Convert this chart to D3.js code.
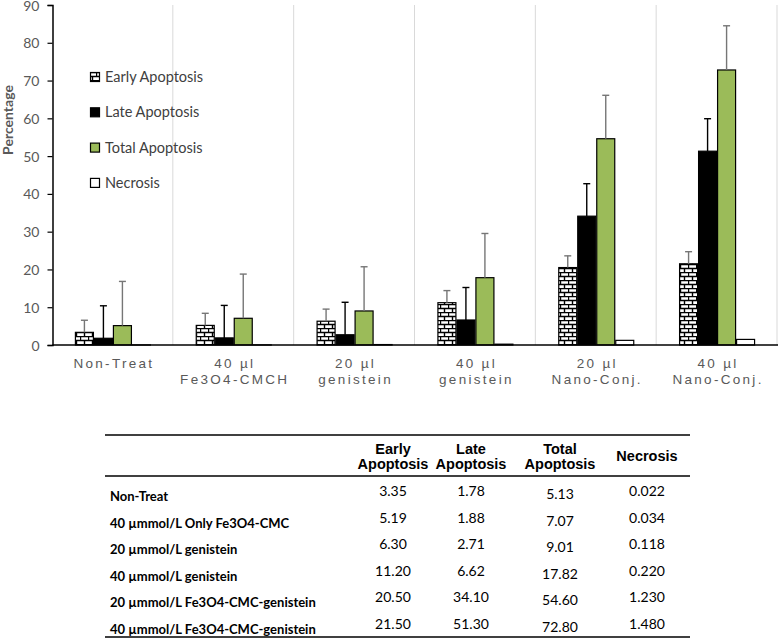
<!DOCTYPE html>
<html><head><meta charset="utf-8">
<script src="https://cdn.jsdelivr.net/npm/d3@7"></script>
<style>body{margin:0;background:#fff}svg{display:block}</style>
</head><body>
<svg id="c" width="778" height="638"></svg>
<script>
const categories = [["Non-Treat"],["40 µl","Fe3O4-CMCH"],["20 µl","genistein"],["40 µl","genistein"],["20 µl","Nano-Conj."],["40 µl","Nano-Conj."]];
const seriesNames = ["Early Apoptosis","Late Apoptosis","Total Apoptosis","Necrosis"];
const early = [3.35,5.19,6.30,11.20,20.50,21.50];
const late = [1.78,1.88,2.71,6.62,34.10,51.30];
const total = [5.13,7.07,9.01,17.82,54.60,72.80];
const necrosis = [0.022,0.034,0.118,0.220,1.230,1.480];
const earlyErr = [3.2,3.2,3.2,3.2,3.1,3.2];
const lateErr = [8.6,8.6,8.6,8.6,8.6,8.6];
const totalErr = [11.7,11.7,11.7,11.7,11.5,11.7];
const yTicks = [0,10,20,30,40,50,60,70,80,90];
const rowLabels = ["Non-Treat","40 µmmol/L Only Fe3O4-CMC","20 µmmol/L genistein","40 µmmol/L genistein","20 µmmol/L Fe3O4-CMC-genistein","40 µmmol/L Fe3O4-CMC-genistein"];
const colHeaders = [["Early","Apoptosis"],["Late","Apoptosis"],["Total","Apoptosis"],["Necrosis"]];

const svg = d3.select("#c");
const defs = svg.append("defs");
const pat = defs.append("pattern").attr("id","brick").attr("patternUnits","userSpaceOnUse")
  .attr("width",8).attr("height",8);
pat.append("rect").attr("width",8).attr("height",8).attr("fill","#fff");
pat.append("path").attr("d","M0,0.5H8M0,4.5H8M0.5,0V4.5M4.5,4.5V8").attr("stroke","#000").attr("stroke-width",1.4).attr("fill","none");

const pLeft = 52.5, pRight = 777.5, pTop = 5, pBottom = 345;
const x = d3.scaleBand().domain(d3.range(categories.length)).range([pLeft,pRight]);
const y = d3.scaleLinear().domain([0,90]).range([pBottom,pTop]);
const inner = d3.scaleBand().domain(d3.range(4)).range([0,76]);
const off = (x.bandwidth()-76)/2;

// separators
svg.append("g").selectAll("line").data(d3.range(1,categories.length+1)).join("line")
  .attr("x1",d=>x(0)+d*x.bandwidth()-0.5).attr("x2",d=>x(0)+d*x.bandwidth()-0.5)
  .attr("y1",y(90)).attr("y2",y(0)).attr("stroke","#d9d9d9").attr("stroke-width",1);

const series = [
  {vals:early, err:earlyErr, fill:"url(#brick)", stroke:"#000", ec:"#767676"},
  {vals:late, err:lateErr, fill:"#000", stroke:"#000", ec:"#000"},
  {vals:total, err:totalErr, fill:"#9bbb59", stroke:"#000", ec:"#767676"},
  {vals:necrosis, err:null, fill:"#fff", stroke:"#000", ec:null}
];
series.forEach((s,si)=>{
  const g = svg.append("g");
  g.selectAll("rect").data(s.vals).join("rect")
    .attr("x",(d,i)=>x(i)+off+inner(si)+0.5)
    .attr("y",d=>y(d))
    .attr("width",inner.bandwidth()-1)
    .attr("height",d=>Math.max(0,y(0)-y(d)))
    .attr("fill",s.fill).attr("stroke",s.stroke).attr("stroke-width",1.2);
  if(s.err){
    const eg = svg.append("g").attr("stroke",s.ec).attr("stroke-width",1.4);
    s.vals.forEach((v,i)=>{
      const cx = x(i)+off+inner(si)+inner.bandwidth()/2;
      eg.append("line").attr("x1",cx).attr("x2",cx).attr("y1",y(v)).attr("y2",y(v+s.err[i]));
      eg.append("line").attr("x1",cx-3.5).attr("x2",cx+3.5).attr("y1",y(v+s.err[i])).attr("y2",y(v+s.err[i]));
    });
  }
});

// y axis
const ya = svg.append("g").attr("transform",`translate(${pLeft},0)`)
  .call(d3.axisLeft(y).tickValues(yTicks).tickSize(5).tickPadding(8));
ya.select(".domain").attr("stroke","#000").attr("stroke-width",1.5);
ya.selectAll(".tick line").attr("stroke","#000").attr("stroke-width",1.2);
ya.selectAll("text").attr("font-family","Lato, sans-serif").attr("font-size",14).attr("fill","#595959").attr("dy","0.36em");

// baseline
svg.append("line").attr("x1",pLeft).attr("x2",778).attr("y1",pBottom).attr("y2",pBottom).attr("stroke","#000").attr("stroke-width",1.5);

// x labels
const xl = svg.append("g");
categories.forEach((lines,i)=>{
  const t = xl.append("text").attr("text-anchor","middle").attr("font-family","Liberation Sans, Arial, sans-serif")
    .attr("font-size",13.5).attr("letter-spacing","2.3px").attr("fill","#595959");
  lines.forEach((ln,j)=>t.append("tspan").attr("x",x(i)+x.bandwidth()/2+1).attr("y",368+j*16).text(ln));
});

// y title
svg.append("text").attr("transform","translate(13,120) rotate(-90)").attr("text-anchor","middle")
  .attr("font-family","Lato, sans-serif").attr("font-weight","bold").attr("font-size",14).attr("fill","#595959").text("Percentage");

// legend
const leg = svg.append("g");
const legFills = ["url(#brick)","#000","#9bbb59","#fff"];
seriesNames.forEach((n,i)=>{
  const cy = 77 + i*35.3;
  leg.append("rect").attr("x",90.5).attr("y",cy-4.5).attr("width",9).attr("height",9)
    .attr("fill",legFills[i]).attr("stroke","#000").attr("stroke-width",1.2);
  leg.append("text").attr("x",105).attr("y",cy+5).attr("font-family","Lato, sans-serif").attr("font-size",14.5)
    .attr("fill","#404040").text(n);
});

// table
const tb = svg.append("g");
const tl = 105, tr = 690;
tb.append("line").attr("x1",tl).attr("x2",tr).attr("y1",435).attr("y2",435).attr("stroke","#000").attr("stroke-width",1.3);
tb.append("line").attr("x1",tl).attr("x2",tr).attr("y1",476).attr("y2",476).attr("stroke","#000").attr("stroke-width",1.3);
tb.append("line").attr("x1",tl).attr("x2",tr).attr("y1",637).attr("y2",637).attr("stroke","#000").attr("stroke-width",1.3);
const colX = [393,471,560,647];
colHeaders.forEach((h,ci)=>{
  const t = tb.append("text").attr("text-anchor","middle").attr("font-family","Liberation Sans, Arial, sans-serif")
    .attr("font-weight","bold").attr("font-size",14.5).attr("fill","#000");
  if(h.length===2){
    h.forEach((ln,j)=>t.append("tspan").attr("x",colX[ci]).attr("y",454+j*15).text(ln));
  } else {
    t.append("tspan").attr("x",colX[ci]).attr("y",461).text(h[0]);
  }
});
const rowY = d3.range(6).map(i=>496+i*26.6);
rowLabels.forEach((r,i)=>{
  tb.append("text").attr("x",110).attr("y",rowY[i]+5).attr("font-family","Lato, sans-serif").attr("font-weight","bold")
    .attr("font-size",13).attr("fill","#000").text(r);
});
const f2 = d3.format(".2f"), f3 = d3.format(".3f");
const cols = [{v:early,f:f2,dy:-5},{v:late,f:f2,dy:-5},{v:total,f:f2,dy:-2},{v:necrosis,f:f3,dy:-5}];
cols.forEach((c,ci)=>{
  c.v.forEach((v,i)=>{
    tb.append("text").attr("x",colX[ci]).attr("y",rowY[i]+c.dy+5).attr("text-anchor","middle")
      .attr("font-family","Lato, sans-serif").attr("font-size",14).attr("fill","#000").text(c.f(v));
  });
});
</script>
</body></html>
